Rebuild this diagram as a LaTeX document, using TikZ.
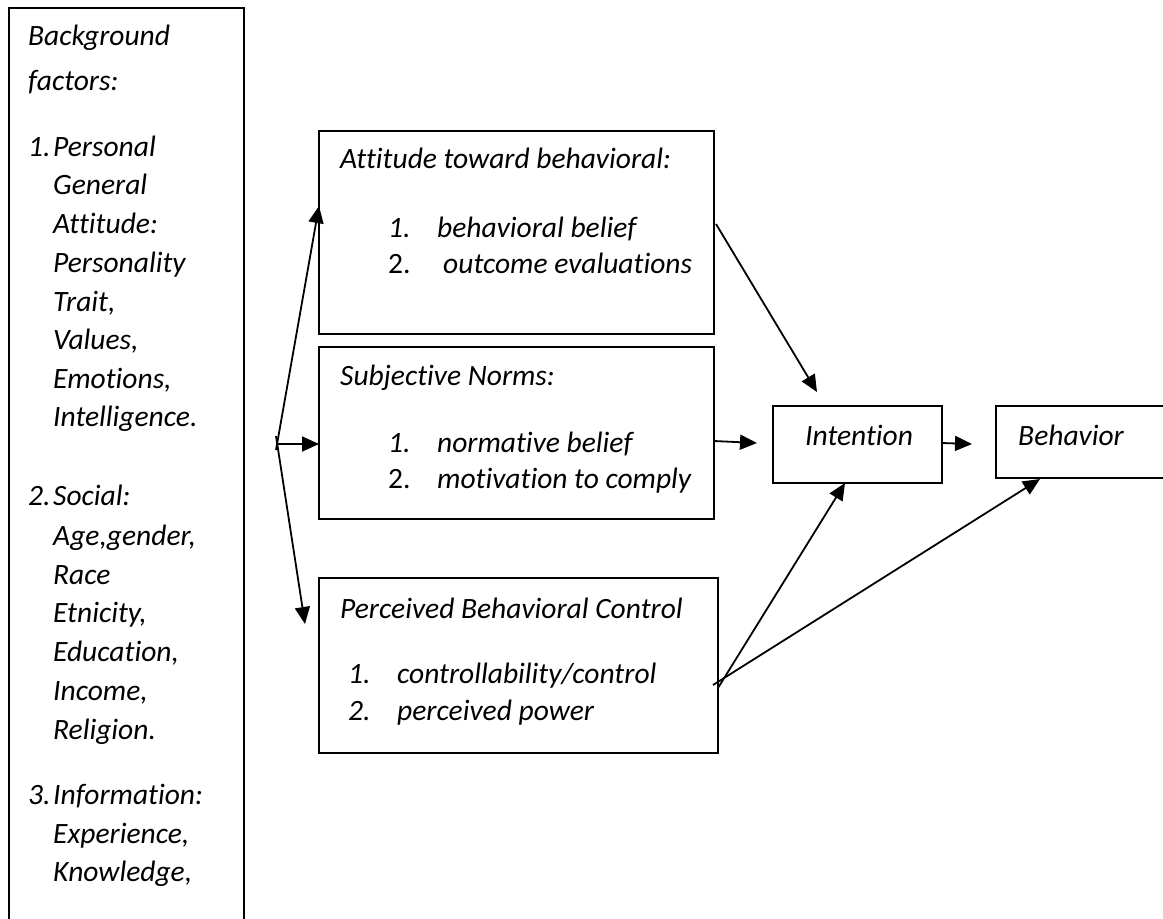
\documentclass[tikz,border=0pt]{standalone}
\usepackage{fontspec}
\setmainfont{Carlito}[Ligatures=NoCommon]
\usetikzlibrary{arrows.meta,calc}
\begin{document}
\begin{tikzpicture}[x=1pt,y=-1pt,
  box/.style={draw,line width=1.8pt,rectangle,inner sep=0pt,outer sep=0pt,anchor=north west},
  txt/.style={anchor=base west,inner sep=0pt,font=\fontsize{29.5}{34}\selectfont\itshape},
  num/.style={anchor=base west,inner sep=0pt,font=\fontsize{29.5}{34}\selectfont},
  arr/.style={line width=1.8pt,-{Triangle[length=17pt,width=15pt]}},
  ln/.style={line width=1.8pt}]
\useasboundingbox (0,0) rectangle (1163,919);
\fill[white] (0,0) rectangle (1163,919);
% boxes
\node[box,minimum width=235pt,minimum height=940pt] (bg) at (9,8) {};
\node[box,minimum width=395pt,minimum height=203pt] (att) at (319,131) {};
\node[box,minimum width=395pt,minimum height=172pt] (sn) at (319,347) {};
\node[box,minimum width=399pt,minimum height=175pt] (pbc) at (319,578) {};
\node[box,minimum width=169pt,minimum height=77pt] (int) at (773,406) {};
\node[box,minimum width=250pt,minimum height=72pt] (beh) at (996,406) {};
% left text
\node[txt] (bg1) at (28,45) {Background};
\node[txt] (bg2) at (28,90) {factors:};
\node[txt] (n1) at (28,156) {1.};
\node[txt] (n2) at (28,505) {2.};
\node[txt] (n3) at (28,804) {3.};
\foreach \yy/\lbltxt [count=\i] in {156/Personal,194/General,233/Attitude:,272/Personality,311/{Trait,},349/{Values,},388/{Emotions,},426/Intelligence.,505/Social:,545/{Age,gender,},584/Race,622/{Etnicity,},661/{Education,},700/{Income,},739/Religion.,804/Information:,843/{Experience,},881/{Knowledge,}}
  \node[txt] (lb\i) at (53,\yy) {\lbltxt};
% attitude box
\node[txt] (att0) at (340,168) {Attitude toward behavioral:};
\node[txt] (att1n) at (388,237) {1.};
\node[txt] (att1) at (437,237) {behavioral belief};
\node[num] (att2n) at (388,273) {2.};
\node[txt] (att2) at (443,273) {outcome evaluations};
% subjective norms
\node[txt] (sn0) at (340,385) {Subjective Norms:};
\node[txt] (sn1n) at (388,452) {1.};
\node[txt] (sn1) at (437,452) {normative belief};
\node[num] (sn2n) at (388,488) {2.};
\node[txt] (sn2) at (437,488) {motivation to comply};
% pbc
\node[txt] (pbc0) at (340,618) {Perceived Behavioral Control};
\node[txt] (pbc1n) at (348,683) {1.};
\node[txt] (pbc1) at (397,683) {controllability/control};
\node[txt] (pbc2n) at (348,720) {2.};
\node[txt] (pbc2) at (397,720) {perceived power};
% intention / behavior
\node[txt] (intt) at (805,445) {Intention};
\node[txt] (beht) at (1018,445) {Behavior};
% connectors
\coordinate (J) at (277,444);
\coordinate (Ju) at (276,450);
\coordinate (Jd) at (276,436);
\coordinate (Pd) at ($(pbc.north west)+(-14,46)$);
\draw[arr] (Ju) -- ($(att.north west)+(0,75)$);
\draw[arr] (J) -- (J -| sn.west);
\draw[arr] (Jd) -- (Pd);
\draw[arr] ($(att.north east)+(2,93)$) -- ($(int.north west)+(44,-14)$);
\draw[arr] ($(sn.north east)+(0,94)$) -- ($(int.north west)+(-16,37)$);
\draw[arr] ($(int.north east)+(0,37)$) -- ($(beh.north west)+(-24,38)$);
\draw[arr] ($(pbc.north east)+(0,110)$) -- ($(int.south west)+(72,0)$);
\draw[arr] ($(pbc.north east)+(-5,107)$) -- ($(beh.south west)+(44,1)$);
\end{tikzpicture}
\end{document}
